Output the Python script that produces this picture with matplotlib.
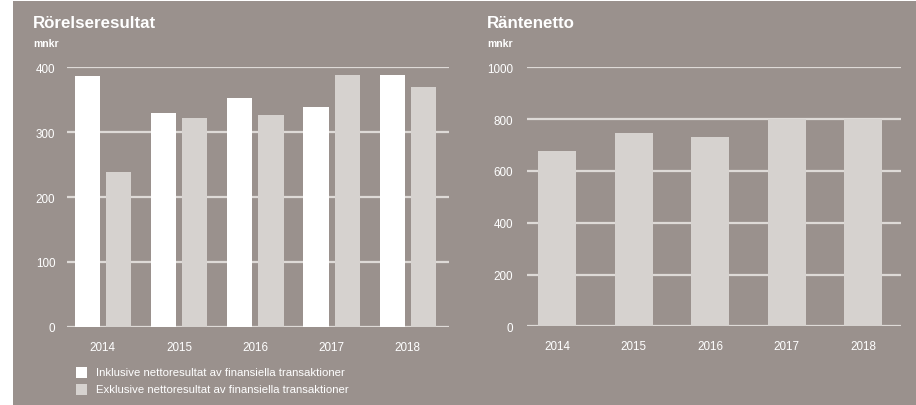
import numpy as np
import matplotlib.pyplot as plt
from matplotlib.patches import Rectangle

# data
years = ["2014", "2015", "2016", "2017", "2018"]
rorelse_inkl = [386, 330, 353, 339, 388]
rorelse_exkl = [238, 322, 327, 388, 370]
rantenetto = [678, 745, 730, 800, 800]

legend_labels = ["Inklusive nettoresultat av finansiella transaktioner",
                 "Exklusive nettoresultat av finansiella transaktioner"]

# colours
bg = "#9a918d"
white = "#ffffff"
light = "#d6d2cf"
gridc = "#dedad7"

plt.rcParams["font.family"] = ["Liberation Sans", "DejaVu Sans"]

W, H = 916, 406
fig = plt.figure(figsize=(W / 100, H / 100), dpi=100, facecolor="white")
fig.patches.append(Rectangle((13 / W, 0), 1, 1 - 2 / H, transform=fig.transFigure,
                             facecolor=bg, edgecolor="none", zorder=-10))


def px_axes(x0, x1, y_top, y_bot):
	return fig.add_axes([x0 / W, 1 - y_bot / H, (x1 - x0) / W, (y_bot - y_top) / H])


def style(ax, ticks, top, ypad):
	ax.set_facecolor("none")
	for s in ax.spines.values():
		s.set_visible(False)
	ax.set_ylim(0, top)
	ax.set_yticks(ticks)
	ax.set_yticklabels([str(t) for t in ticks])
	ax.yaxis.grid(True, color=gridc, linewidth=1.6)
	ax.set_axisbelow(True)
	ax.tick_params(axis="both", length=0, colors=white, labelsize=8.4)
	ax.tick_params(axis="y", pad=ypad)
	ax.tick_params(axis="x", pad=10)


x = np.arange(len(years))

# left chart
ax1 = px_axes(67, 449, 68.3, 327.7)
ax1.bar(x - 0.205, rorelse_inkl, width=0.33, color=white, zorder=3)
ax1.bar(x + 0.205, rorelse_exkl, width=0.33, color=light, zorder=3)
ax1.set_xlim(-0.47, 4.54)
style(ax1, [0, 100, 200, 300, 400], 400, 8.5)
ax1.set_xticks(x)
ax1.set_xticklabels(years)

# right chart
ax2 = px_axes(526.7, 900.7, 68.3, 327.3)
ax2.bar(x, rantenetto, width=0.5, color=light, zorder=3)
ax2.set_xlim(-0.40, 4.49)
style(ax2, [0, 200, 400, 600, 800, 1000], 1000, 10)
ax2.set_xticks(x)
ax2.set_xticklabels(years)

# titles
for x0, title in [(33, "Rörelseresultat"), (487, "Räntenetto")]:
	fig.text(x0 / W, 1 - 23 / H, title, color=white, fontsize=12.2,
	         fontweight="bold", va="center", ha="left")
	fig.text(x0 / W, 1 - 44 / H, "mnkr", color=white, fontsize=7.5,
	         fontweight="bold", va="center", ha="left")

# legend
for i, (lab, col) in enumerate(zip(legend_labels, [white, light])):
	yc = 373 + i * 17
	fig.patches.append(Rectangle((76 / W, 1 - (yc + 5.5) / H), 11 / W, 11 / H,
	                             transform=fig.transFigure, facecolor=col, edgecolor="none"))
	fig.text(96 / W, 1 - yc / H, lab, color=white, fontsize=8.2, va="center", ha="left")

fig.savefig("out.png", dpi=100, facecolor=fig.get_facecolor())
